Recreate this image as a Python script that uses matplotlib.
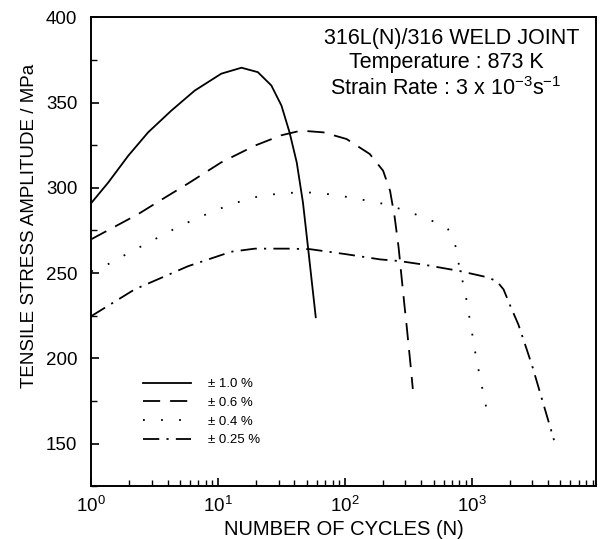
import matplotlib.pyplot as plt
from matplotlib.ticker import LogLocator, MultipleLocator, NullFormatter

plt.rcParams['font.family'] = ['Liberation Sans', 'DejaVu Sans']

# cycles / stress amplitude for each strain amplitude
n_10 = [1, 1.36, 1.96, 2.81, 4.29, 6.55, 10.6, 15.3, 20.6, 26.3, 31.6, 36.6, 41.7, 46.7, 51.2, 58.9]
s_10 = [291, 303, 318.8, 332.5, 345.3, 357, 366.9, 370.4, 367.8, 360, 348.2, 332.5, 314.9, 291.3, 264.9, 224.1]

n_06 = [1, 2.34, 3.37, 5.8, 10.6, 19.5, 31.6, 45, 67.5, 103, 157, 200, 227, 247, 265, 280, 297, 304, 331, 343]
s_06 = [269.8, 284.5, 291.8, 302.5, 314.9, 324.7, 330.8, 333.5, 332.5, 328.6, 319.8, 310, 298.2, 282.5, 265, 247.2, 228.6, 221.8, 194.3, 182]

n_04 = [1, 1.2, 2.0, 3.17, 5.0, 8.1, 12.7, 20.6, 32.5, 51, 81, 131, 207, 334, 412, 530, 650, 710, 760, 800, 880, 935, 995, 1090, 1310]
s_04 = [251, 253, 262, 269.8, 277.6, 284.5, 290.4, 294.9, 296.9, 297.3, 296, 293.3, 290.4, 285.5, 282.5, 279.6, 275.7, 269.8, 264, 252.2, 240.4, 228.6, 216.9, 199, 170]

n_025 = [1, 2.2, 5.8, 12.7, 19.5, 35.6, 53, 103, 189, 270, 412, 800, 1310, 1570, 1780, 1990, 2330, 2690, 3030, 4450]
s_025 = [224.7, 240.4, 254, 262.5, 264.3, 264.3, 264, 261, 258, 257, 255, 251.2, 247.6, 245.3, 240.4, 231.6, 219.8, 206, 194.3, 152]

labels = ['± 1.0 %', '± 0.6 %', '± 0.4 %', '± 0.25 %']

fig = plt.figure(figsize=(6.0, 5.39), dpi=100)
ax = fig.add_axes([0.152, 0.098, 0.841, 0.870])

lw = 1.3
ax.plot(n_10, s_10, color='black', lw=lw, linestyle='-', label=labels[0])
ax.plot(n_06, s_06, color='black', lw=lw, linestyle=(0, (9.5, 5.5)), label=labels[1])
ax.plot(n_04, s_04, color='black', lw=lw, linestyle=(0, (1, 9)), label=labels[2])
ax.plot(n_025, s_025, color='black', lw=lw, linestyle=(0, (9, 4, 1.2, 4)), label=labels[3])

ax.set_xscale('log')
ax.set_xlim(1, 9500)
ax.set_ylim(125, 400)

ax.yaxis.set_major_locator(MultipleLocator(50))
ax.yaxis.set_minor_locator(MultipleLocator(25))
ax.xaxis.set_major_locator(LogLocator(base=10, numticks=10))
ax.xaxis.set_minor_locator(LogLocator(base=10, subs=range(2, 10), numticks=20))
ax.xaxis.set_minor_formatter(NullFormatter())

ax.tick_params(which='both', direction='in', top=False, right=False, labelsize=13.5)
ax.tick_params(which='major', length=6, width=1.2)
ax.tick_params(which='minor', length=4, width=1.0)
ax.tick_params(axis='x', pad=7)
ax.tick_params(axis='y', pad=10)
for sp in ax.spines.values():
    sp.set_linewidth(1.4)

ax.set_xlabel('NUMBER OF CYCLES (N)', fontsize=14.5)
ax.xaxis.set_label_coords(0.5, -0.072)
ax.set_ylabel('TENSILE STRESS AMPLITUDE / MPa', fontsize=13.5)
ax.yaxis.set_label_coords(-0.105, 0.556)

ax.text(0.714, 0.955, '316L(N)/316 WELD JOINT', transform=ax.transAxes,
        ha='center', va='center', fontsize=15.5)
ax.text(0.704, 0.904, 'Temperature : 873 K', transform=ax.transAxes,
        ha='center', va='center', fontsize=15.5)
ax.text(0.702, 0.849, r'Strain Rate : 3 x 10$^{\mathregular{-3}}$s$^{\mathregular{-1}}$',
        transform=ax.transAxes, ha='center', va='center', fontsize=15.5)

leg = ax.legend(loc='lower left', bbox_to_anchor=(0.08, 0.06), frameon=False,
                handlelength=3.6, handletextpad=1.3, labelspacing=0.48,
                prop={'size': 9.5})

fig.savefig('out.png', dpi=100)
